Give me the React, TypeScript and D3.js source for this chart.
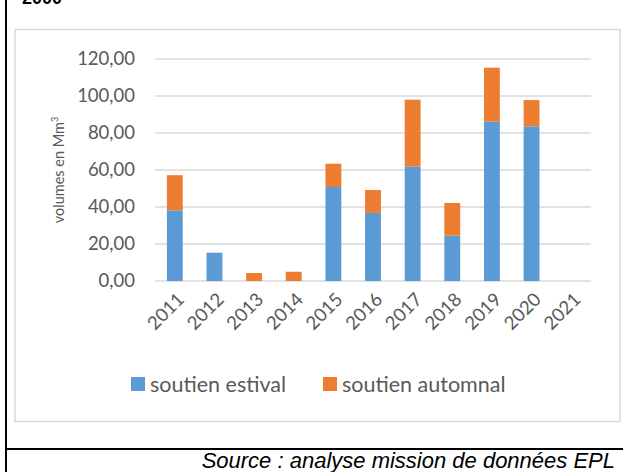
import React, { useEffect, useRef } from 'react';
import * as d3 from 'd3';

const years = ['2011', '2012', '2013', '2014', '2015', '2016', '2017', '2018', '2019', '2020', '2021'];
const estival = [38.2, 15.3, 0, 0, 50.8, 36.8, 61.8, 24.5, 86.1, 83.6, 0];
const automnal = [19.0, 0, 4.3, 5.0, 12.6, 12.4, 36.2, 17.7, 29.2, 14.2, 0];
const yTicks = [0, 20, 40, 60, 80, 100, 120];
const seriesNames = ['soutien estival', 'soutien automnal'];
const colors = ['#5b9bd5', '#ed7d31'];

export default function App() {
  const svgRef = useRef(null);

  useEffect(() => {
    const svg = d3.select(svgRef.current);
    svg.selectAll('*').remove();

    const font = 'Lato, "Liberation Sans", sans-serif';
    const W = 623, H = 472;

    // page frame (table cell borders)
    svg.append('rect').attr('width', W).attr('height', H).attr('fill', '#fff');
    svg.append('text').attr('x', 22).attr('y', 4).attr('font-family', '"Liberation Sans", Arial, sans-serif')
      .attr('font-weight', 'bold').attr('font-size', 18).attr('fill', '#000').text('2000');
    svg.append('line').attr('x1', 6).attr('x2', 6).attr('y1', 0).attr('y2', H)
      .attr('stroke', '#000').attr('stroke-width', 2);
    svg.append('line').attr('x1', 5).attr('x2', W).attr('y1', 449).attr('y2', 449)
      .attr('stroke', '#000').attr('stroke-width', 2);

    // chart area border
    svg.append('rect').attr('x', 15).attr('y', 29.5).attr('width', 605).attr('height', 392)
      .attr('fill', '#fff').attr('stroke', '#d9d9d9').attr('stroke-width', 1.5);

    const x = d3.scaleBand().domain(years).range([155, 591]).paddingInner(0.6).paddingOuter(0.3);
    const y = d3.scaleLinear().domain([0, 120]).range([281, 59]);

    // gridlines
    svg.append('g').selectAll('line').data(yTicks).join('line')
      .attr('x1', 155).attr('x2', 591)
      .attr('y1', d => y(d)).attr('y2', d => y(d))
      .attr('stroke', '#d9d9d9').attr('stroke-width', 1.5);

    const fmt = (v: number) => d3.format('.2f')(v).replace('.', ',');
    svg.append('g').selectAll('text').data(yTicks).join('text')
      .attr('x', 135).attr('y', d => y(d)).attr('dy', '0.35em')
      .attr('text-anchor', 'end').attr('font-family', font).attr('font-size', 18.5)
      .attr('fill', '#595959').text(d => fmt(d));

    // y title
    const yt = svg.append('text').attr('transform', 'translate(64,170) rotate(-90)')
      .attr('text-anchor', 'middle').attr('font-family', font).attr('font-size', 14.5)
      .attr('fill', '#595959');
    yt.append('tspan').text('volumes en Mm');
    yt.append('tspan').attr('font-size', 9).attr('dy', -6).text('3');

    // stacked bars
    const rows = years.map((yr, i) => ({ year: yr, estival: estival[i], automnal: automnal[i] }));
    const stack = d3.stack().keys(['estival', 'automnal'])(rows as any);
    svg.append('g').selectAll('g').data(stack).join('g')
      .attr('fill', (d, i) => colors[i])
      .selectAll('rect').data(d => d).join('rect')
      .attr('x', (d: any) => x(d.data.year)!)
      .attr('width', x.bandwidth())
      .attr('y', d => y(d[1]))
      .attr('height', d => y(d[0]) - y(d[1]));

    // x labels
    svg.append('g').selectAll('text').data(years).join('text')
      .attr('transform', d => `translate(${x(d)! + x.bandwidth() / 2 + 6},${296}) rotate(-45)`)
      .attr('text-anchor', 'end').attr('dy', '0.35em')
      .attr('font-family', font).attr('font-size', 18.5).attr('fill', '#595959')
      .text(d => d);

    // legend
    const legendX = [131, 323];
    const lg = svg.append('g').selectAll('g').data(seriesNames).join('g')
      .attr('transform', (d, i) => `translate(${legendX[i]},377)`);
    lg.append('rect').attr('width', 14).attr('height', 14).attr('fill', (d, i) => colors[i]);
    lg.append('text').attr('x', 19).attr('y', 7).attr('dy', '0.35em')
      .attr('font-family', font).attr('font-size', 21.5).attr('fill', '#595959').text(d => d);

    // source
    svg.append('text').attr('x', 615).attr('y', 468).attr('text-anchor', 'end')
      .attr('font-family', '"Liberation Sans", Arial, sans-serif').attr('font-style', 'italic')
      .attr('font-size', 22).attr('fill', '#000').text('Source : analyse mission de données EPL');
  }, []);

  return (
    <div style={{ position: 'absolute', left: 0, top: 0 }}>
      <svg ref={svgRef} width={623} height={472}></svg>
    </div>
  );
}
